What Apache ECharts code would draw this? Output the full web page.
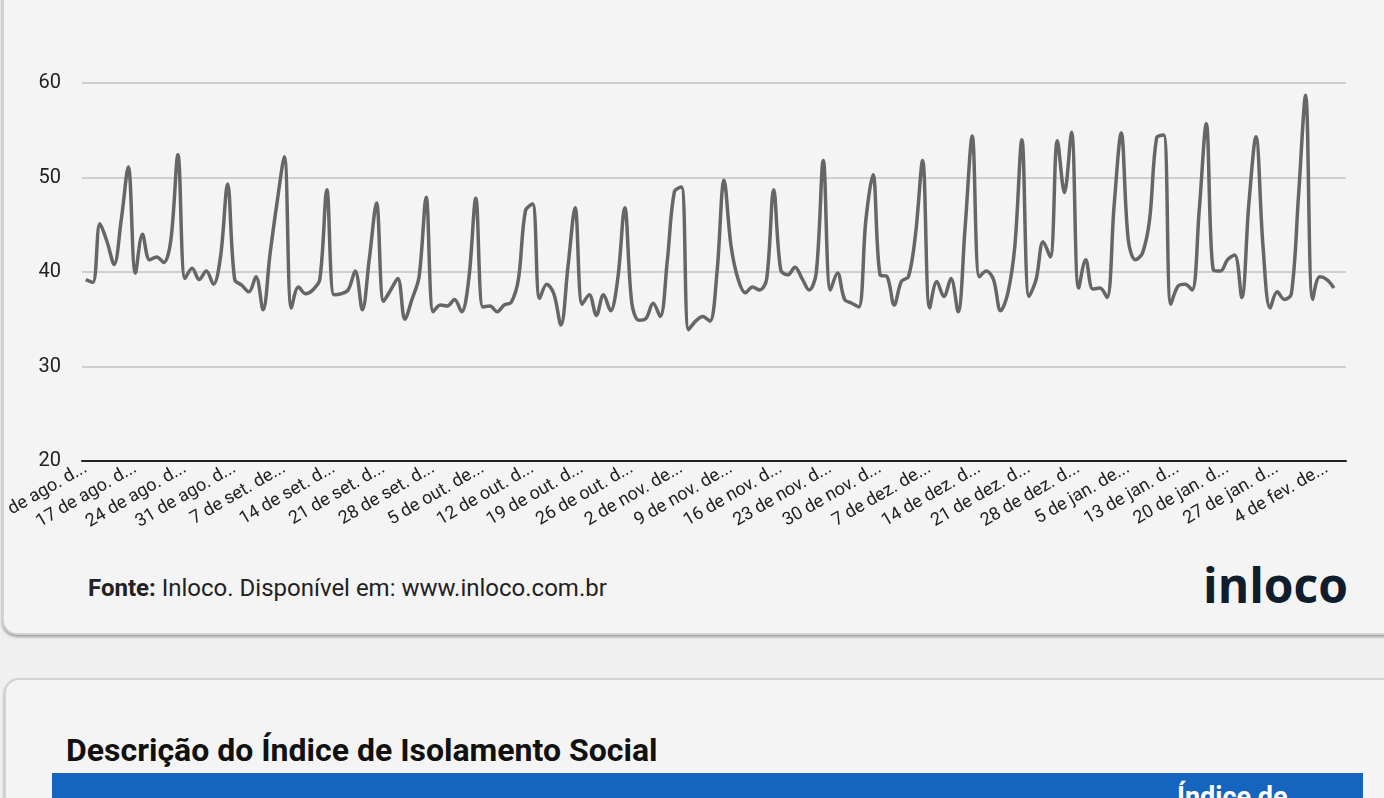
<!DOCTYPE html>
<html>
<head>
<meta charset="utf-8">
<script src="https://cdn.jsdelivr.net/npm/echarts@6/dist/echarts.min.js"></script>
<style>
  html, body { margin: 0; padding: 0; }
  body {
    width: 1384px; height: 798px; overflow: hidden; position: relative;
    background: #f0f0f0; font-family: Roboto, sans-serif;
  }
  .card {
    position: absolute; background: #f4f4f4;
    border: 2px solid #d2d2d2; border-radius: 15px;
    box-shadow: 0 2px 3px rgba(0,0,0,0.35);
  }
  #card1 { left: 2px; top: -40px; width: 1440px; height: 671px; }
  #card2 { left: 4px; top: 678px; width: 1440px; height: 300px; }
  #chart { position: absolute; left: 6px; top: 0; width: 1378px; height: 545px; }
  #fonte { position: absolute; left: 88px; top: 574px; font-size: 24px; color: #222; }
  #logo {
    position: absolute; left: 1203px; top: 552px; font-family: "Open Sans", sans-serif;
    font-weight: 700; font-size: 48px; color: #0f1d2c;
  }
  #titulo { position: absolute; left: 66px; top: 731px; font-size: 32px; font-weight: bold; color: #111; }
  #thead {
    position: absolute; left: 52px; top: 773px; width: 1311px; height: 40px;
    background: #1565c0; color: #fff; font-weight: bold; font-size: 27px;
  }
  #thead span { position: absolute; left: 1125px; top: 8px; }
</style>
</head>
<body>
<div class="card" id="card1"></div>
<div class="card" id="card2"></div>
<div id="chart"></div>
<div id="fonte"><b>Fonte:</b> Inloco. Disponível em: www.inloco.com.br</div>
<div id="logo">inloco</div>
<div id="titulo">Descrição do Índice de Isolamento Social</div>
<div id="thead"><span>Índice de</span></div>
<script>
// rótulos do eixo x (um a cada 7 pontos)
const tickLabels = [
  '10 de ago. de 2020', '17 de ago. de 2020', '24 de ago. de 2020', '31 de ago. de 2020',
  '7 de set. de 2020', '14 de set. de 2020', '21 de set. de 2020', '28 de set. de 2020',
  '5 de out. de 2020', '12 de out. de 2020', '19 de out. de 2020', '26 de out. de 2020',
  '2 de nov. de 2020', '9 de nov. de 2020', '16 de nov. de 2020', '23 de nov. de 2020',
  '30 de nov. de 2020', '7 de dez. de 2020', '14 de dez. de 2020', '21 de dez. de 2020',
  '28 de dez. de 2020', '5 de jan. de 2021', '13 de jan. de 2021', '20 de jan. de 2021',
  '27 de jan. de 2021', '4 de fev. de 2021'
];
const tickStep = 7;

// índice de isolamento social diário (%)
const isolamento = [
  39.2, 38.9, 45.1, 43.2, 40.8, 45.5, 51.1, 39.9, 44.0, 41.3, 41.6, 41.0, 43.4, 52.4,
  39.3, 40.4, 39.2, 40.1, 38.7, 41.6, 49.3, 39.2, 38.6, 37.9, 39.5, 36.0, 42.0, 47.5,
  52.2, 36.2, 38.4, 37.7, 38.1, 39.2, 48.7, 37.6, 37.7, 38.1, 40.1, 36.0, 41.5, 47.3,
  36.9, 38.1, 39.3, 35.0, 37.1, 39.5, 47.9, 35.8, 36.5, 36.4, 37.1, 35.8, 39.2, 47.8,
  36.3, 36.4, 35.8, 36.5, 36.8, 39.2, 46.5, 47.2, 37.2, 38.7, 37.7, 34.4, 40.6, 46.8,
  36.6, 37.6, 35.4, 37.6, 35.9, 39.2, 46.8, 36.7, 34.9, 35.1, 36.7, 35.3, 41.2, 48.5,
  49.0, 33.9, 34.8, 35.3, 34.8, 39.9, 49.7, 42.7, 39.2, 37.8, 38.4, 38.1, 39.2, 48.7,
  40.2, 39.7, 40.5, 39.3, 38.1, 39.9, 51.8, 38.1, 39.9, 37.1, 36.7, 36.3, 45.5, 50.3,
  39.7, 39.5, 36.5, 39.0, 39.5, 44.0, 51.8, 36.2, 39.0, 37.4, 39.3, 35.8, 44.8, 54.4,
  39.5, 40.1, 39.2, 35.9, 37.7, 42.7, 54.0, 37.4, 39.2, 43.2, 41.6, 53.9, 48.4, 54.8,
  38.3, 41.3, 38.2, 38.3, 37.3, 47.0, 54.7, 43.4, 41.3, 42.0, 45.5, 54.2, 54.5, 36.6,
  38.5, 38.7, 38.1, 46.5, 55.7, 40.2, 40.1, 41.3, 41.8, 37.3, 47.2, 54.3, 42.7, 36.2,
  37.9, 37.1, 37.7, 48.0, 58.7, 37.1, 39.5, 39.2, 38.3
];

const yMin = 20, yMax = 60, yStep = 10;

// corta o rótulo como o gráfico original ("17 de ago. d...")
const ctx = document.createElement('canvas').getContext('2d');
ctx.font = '18px Roboto';
const maxLabelW = ctx.measureText('17 de ago. d...').width + 0.5;
function cortar(txt) {
  if (ctx.measureText(txt).width <= maxLabelW) return txt;
  for (let n = txt.length - 1; n > 0; n--) {
    const s = txt.slice(0, n).trimEnd() + '...';
    if (ctx.measureText(s).width <= maxLabelW) return s;
  }
  return '...';
}

const chart = echarts.init(document.getElementById('chart'));
const tickValues = tickLabels.map((_, k) => k * tickStep);

chart.setOption({
  animation: false,
  grid: { left: 76, right: 38, top: 83, bottom: 84, containLabel: false, outerBoundsMode: 'none' },
  xAxis: {
    type: 'value',
    min: -0.53,
    max: 177.7,
    axisLine: { show: true, onZero: false, lineStyle: { color: '#222', width: 2 } },
    axisTick: { show: false },
    splitLine: { show: false },
    axisLabel: {
      customValues: tickValues,
      formatter: v => cortar(tickLabels[Math.round(v / tickStep)] || ''),
      rotate: 30,
      margin: 6,
      fontSize: 18,
      color: '#222',
      fontFamily: 'Roboto'
    }
  },
  yAxis: {
    type: 'value',
    min: yMin,
    max: yMax,
    interval: yStep,
    axisLine: { show: false },
    axisTick: { show: false },
    splitLine: { lineStyle: { color: '#cfcfcf', width: 2 } },
    axisLabel: { fontSize: 20, color: '#222', fontFamily: 'Roboto', margin: 21 }
  },
  series: [{
    type: 'line',
    data: isolamento.map((v, i) => [i, v]),
    smooth: 0.35,
    symbol: 'none',
    lineStyle: { color: '#666666', width: 3.5 }
  }]
});
</script>
</body>
</html>
